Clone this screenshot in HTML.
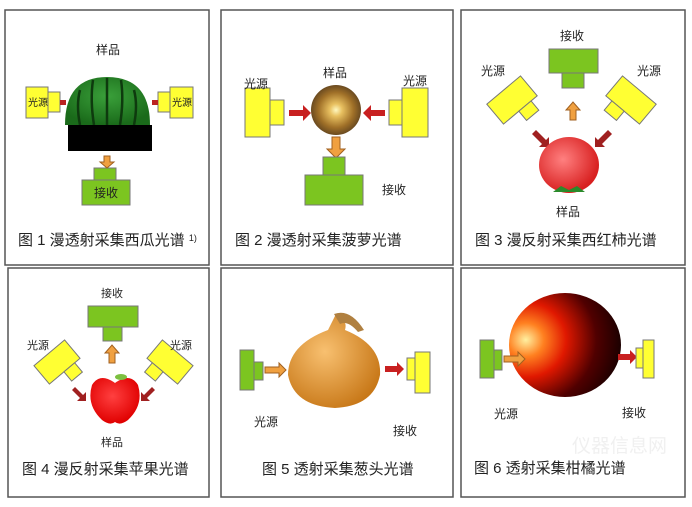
<!DOCTYPE html>
<html><head><meta charset="utf-8"><style>
html,body{margin:0;padding:0;background:#fff;width:692px;height:507px;overflow:hidden}
text{font-family:"Liberation Sans","Noto Sans CJK SC",sans-serif;fill:#222}
</style></head><body>
<svg width="692" height="507" viewBox="0 0 692 507" xmlns="http://www.w3.org/2000/svg">
<defs>
<radialGradient id="wm" cx="50%" cy="40%" r="60%"><stop offset="0" stop-color="#3aa03a"/><stop offset="1" stop-color="#1a6a1a"/></radialGradient>
<radialGradient id="pa" cx="50%" cy="50%" r="50%"><stop offset="0" stop-color="#fff8c0"/><stop offset="0.25" stop-color="#e8c060"/><stop offset="0.7" stop-color="#a07028"/><stop offset="1" stop-color="#6a4a20"/></radialGradient>
<radialGradient id="tm" cx="40%" cy="40%" r="60%"><stop offset="0" stop-color="#ff8080"/><stop offset="1" stop-color="#d82020"/></radialGradient>
<radialGradient id="ap" cx="45%" cy="40%" r="60%"><stop offset="0" stop-color="#ff4040"/><stop offset="1" stop-color="#e00000"/></radialGradient>
<radialGradient id="on" cx="40%" cy="40%" r="65%"><stop offset="0" stop-color="#f8c070"/><stop offset="1" stop-color="#c87818"/></radialGradient>
<radialGradient id="or" cx="15%" cy="45%" r="90%"><stop offset="0" stop-color="#fff0a0"/><stop offset="0.18" stop-color="#ff8020"/><stop offset="0.4" stop-color="#e01800"/><stop offset="0.7" stop-color="#500000"/><stop offset="1" stop-color="#100000"/></radialGradient>
</defs>
<g fill="none" stroke="#555" stroke-width="1.5">
<rect x="5" y="10" width="204" height="255"/><rect x="221" y="10" width="232" height="255"/><rect x="461" y="10" width="224" height="255"/>
<rect x="8" y="268" width="201" height="229"/><rect x="221" y="268" width="232" height="229"/><rect x="461" y="268" width="224" height="229"/>
</g>
<g font-size="15">
<text x="18" y="245">图 1 漫透射采集西瓜光谱 <tspan font-size="9" dy="-4">1)</tspan></text>
<text x="235" y="245">图 2  漫透射采集菠萝光谱</text>
<text x="475" y="245">图 3  漫反射采集西红柿光谱</text>
<text x="22" y="474">图 4  漫反射采集苹果光谱</text>
<text x="262" y="474">图 5  透射采集葱头光谱</text>
<text x="474" y="473">图 6  透射采集柑橘光谱</text>
</g>
<g stroke="#777" stroke-width="1">
<path d="M65 125 Q65 77 107 77 Q150 77 150 125 Z" fill="url(#wm)" stroke="none"/>
<g stroke="#0e3a0e" stroke-width="2.5" fill="none"><path d="M80 90 Q76 105 80 125"/><path d="M93 80 Q90 100 94 125"/><path d="M107 78 V125"/><path d="M121 80 Q124 100 120 125"/><path d="M134 90 Q138 105 134 125"/></g>
<rect x="68" y="125" width="84" height="26" fill="#000" stroke="none"/>
<rect x="26" y="87" width="22" height="31" fill="#ffff33"/><rect x="48" y="92" width="12" height="20" fill="#ffff33"/>
<rect x="170" y="87" width="23" height="31" fill="#ffff33"/><rect x="158" y="92" width="12" height="20" fill="#ffff33"/>
<rect x="60" y="100" width="6" height="5" fill="#b22" stroke="none"/><rect x="152" y="100" width="6" height="5" fill="#b22" stroke="none"/>
<rect x="94" y="168" width="22" height="12" fill="#7cc520"/><rect x="82" y="180" width="48" height="25" fill="#7cc520"/>
<path d="M104 156h6v6h4l-7 6l-7-6h4z" fill="#f0a040" stroke="#a06020"/>
<circle cx="336" cy="110" r="25" fill="url(#pa)" stroke="none"/>
<rect x="245" y="88" width="25" height="49" fill="#ffff33"/><rect x="270" y="100" width="14" height="25" fill="#ffff33"/>
<rect x="402" y="88" width="26" height="49" fill="#ffff33"/><rect x="389" y="100" width="13" height="25" fill="#ffff33"/>
<path d="M289 110h14v-5l8 8l-8 8v-5h-14z" fill="#c82020" stroke="none"/>
<path d="M385 110h-14v-5l-8 8l8 8v-5h14z" fill="#c82020" stroke="none"/>
<path d="M332 137h8v12h5l-9 9l-9-9h5z" fill="#f0a040" stroke="#a06020"/>
<rect x="323" y="157" width="22" height="18" fill="#7cc520"/><rect x="305" y="175" width="58" height="30" fill="#7cc520"/>
<rect x="549" y="49" width="49" height="24" fill="#7cc520"/><rect x="562" y="73" width="22" height="15" fill="#7cc520"/>
<path d="M570 120v-10h-4l7-8l7 8h-4v10z" fill="#f0a040" stroke="#a06020"/>
<g transform="translate(512,100) rotate(-40)"><rect x="-22" y="-13" width="44" height="26" fill="#ffff33"/><rect x="-2" y="13" width="16" height="12" fill="#ffff33"/></g>
<g transform="translate(631,100) rotate(40)"><rect x="-22" y="-13" width="44" height="26" fill="#ffff33"/><rect x="-14" y="13" width="16" height="12" fill="#ffff33"/></g>
<path d="M536 130l10 10l3-3v10h-10l3-3l-10-10z" fill="#a02020" stroke="none"/>
<path d="M608 130l-10 10l-3-3v10h10l-3-3l10-10z" fill="#a02020" stroke="none"/>
<ellipse cx="569" cy="165" rx="30" ry="28" fill="url(#tm)" stroke="none"/>
<path d="M553 192l8-6l8 4l8-4l8 6z" fill="#2a8a2a" stroke="none"/>
<rect x="88" y="306" width="50" height="21" fill="#7cc520"/><rect x="103" y="327" width="19" height="14" fill="#7cc520"/>
<path d="M109 363v-10h-4l7-8l7 8h-4v10z" fill="#f0a040" stroke="#a06020"/>
<g transform="translate(57,362) rotate(-40)"><rect x="-20" y="-12" width="40" height="24" fill="#ffff33"/><rect x="-1" y="12" width="14" height="12" fill="#ffff33"/></g>
<g transform="translate(170,362) rotate(40)"><rect x="-20" y="-12" width="40" height="24" fill="#ffff33"/><rect x="-13" y="12" width="14" height="12" fill="#ffff33"/></g>
<path d="M75 387l8 8l3-3v9h-9l3-3l-8-8z" fill="#a02020" stroke="none"/>
<path d="M152 387l-8 8l-3-3v9h9l-3-3l8-8z" fill="#a02020" stroke="none"/>
<path d="M115 383 Q100 372 92 385 Q86 405 102 420 Q110 426 115 422 Q120 426 128 420 Q144 405 138 385 Q130 372 115 383Z" fill="url(#ap)" stroke="none"/>
<ellipse cx="121" cy="377" rx="6" ry="3" fill="#7cc040" stroke="none"/>
<path d="M336 314 Q348 320 345 330 Q382 345 380 375 Q374 406 335 408 Q294 406 288 375 Q288 345 328 330 Z" fill="url(#on)" stroke="none"/>
<path d="M334 314 Q350 308 364 330 L358 332 Q348 320 340 324Z" fill="#b08040" stroke="none"/>
<rect x="240" y="350" width="14" height="40" fill="#7cc520"/><rect x="254" y="362" width="9" height="18" fill="#7cc520"/>
<path d="M265 367h14v-4l7 7l-7 7v-4h-14z" fill="#f0a040" stroke="#a06020"/>
<path d="M385 366h12v-4l7 7l-7 7v-4h-12z" fill="#c82020" stroke="none"/>
<rect x="407" y="358" width="8" height="22" fill="#ffff33"/><rect x="415" y="352" width="15" height="41" fill="#ffff33"/>
<ellipse cx="565" cy="345" rx="56" ry="52" fill="url(#or)" stroke="none"/>
<rect x="480" y="340" width="14" height="38" fill="#7cc520"/><rect x="494" y="350" width="8" height="20" fill="#7cc520"/>
<path d="M504 356h14v-4l7 7l-7 7v-4h-14z" fill="#f0a040" stroke="#a06020"/>
<path d="M618 354h12v-4l7 7l-7 7v-4h-12z" fill="#c82020" stroke="none"/>
<rect x="636" y="348" width="7" height="20" fill="#ffff33"/><rect x="643" y="340" width="11" height="38" fill="#ffff33"/>
</g>
<g font-size="12">
<text x="96" y="54">样品</text>
<text x="28" y="106" font-size="10">光源</text><text x="172" y="106" font-size="10">光源</text>
<text x="94" y="197">接收</text>
<text x="323" y="77">样品</text>
<text x="244" y="88">光源</text><text x="403" y="85">光源</text>
<text x="382" y="194">接收</text>
<text x="560" y="40">接收</text>
<text x="481" y="75">光源</text><text x="637" y="75">光源</text>
<text x="556" y="216">样品</text>
<text x="101" y="297" font-size="11">接收</text>
<text x="27" y="349" font-size="11">光源</text><text x="170" y="349" font-size="11">光源</text>
<text x="101" y="446" font-size="11">样品</text>
<text x="254" y="426">光源</text><text x="393" y="435">接收</text>
<text x="494" y="418">光源</text><text x="622" y="417">接收</text>
</g>
<text x="572" y="452" font-size="19" style="fill:#f0f0f0">仪器信息网</text>
</svg>
</body></html>
